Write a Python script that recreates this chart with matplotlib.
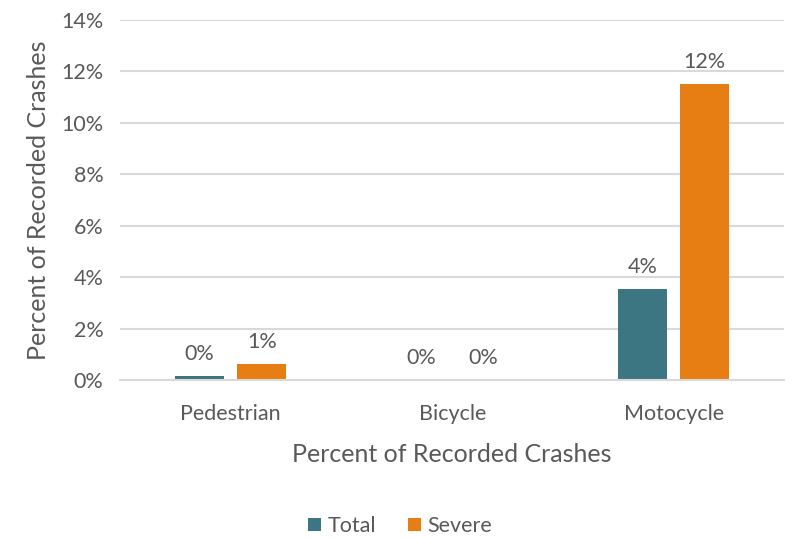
import numpy as np
import matplotlib.pyplot as plt

plt.rcParams['font.family'] = ['Lato', 'DejaVu Sans']

categories = ['Pedestrian', 'Bicycle', 'Motocycle']
total = [0.17, 0.0, 3.54]
severe = [0.62, 0.0, 11.51]
total_labels = ['0%', '0%', '4%']
severe_labels = ['1%', '0%', '12%']

teal = '#3B7682'
orange = '#E67E13'
grey = '#595959'

fig = plt.figure(figsize=(7.92, 5.38), dpi=100)
ax = fig.add_axes([0.1515, 0.2937, 0.839, 0.6693])

x = np.arange(len(categories))
w = 0.221
off = 0.14
b1 = ax.bar(x - off, total, w, color=teal, label='Total')
b2 = ax.bar(x + off, severe, w, color=orange, label='Severe')

for bars, labs in [(b1, total_labels), (b2, severe_labels)]:
    for b, lab in zip(bars, labs):
        ax.text(b.get_x() + b.get_width() / 2, b.get_height() + 0.45, lab,
                ha='center', va='bottom', fontsize=15.5, color=grey)

ax.set_xlim(-0.5, 2.5)
ax.set_ylim(0, 14)
ax.set_yticks(range(0, 15, 2))
ax.set_yticklabels([f'{v}%' for v in range(0, 15, 2)])
ax.set_xticks(x)
ax.set_xticklabels(categories)
ax.tick_params(axis='both', length=0, labelsize=15.5, labelcolor=grey)
ax.tick_params(axis='x', pad=17)
ax.tick_params(axis='y', pad=12)
ax.grid(axis='y', color='#d9d9d9', linewidth=1.5)
ax.set_axisbelow(True)
for s in ['top', 'right', 'left']:
    ax.spines[s].set_visible(False)
ax.spines['bottom'].set_color('#d9d9d9')
ax.spines['bottom'].set_linewidth(1.5)

ax.set_xlabel('Percent of Recorded Crashes', fontsize=18, color=grey, labelpad=14)
ax.set_ylabel('Percent of Recorded Crashes', fontsize=18, color=grey, labelpad=8)

fig.legend(loc='center', bbox_to_anchor=(0.505, 0.022), ncol=2, frameon=False,
           fontsize=15.5, labelcolor=grey, handlelength=0.6, handleheight=0.6,
           handletextpad=0.3, columnspacing=1.5)

fig.savefig('out.png', dpi=100)
